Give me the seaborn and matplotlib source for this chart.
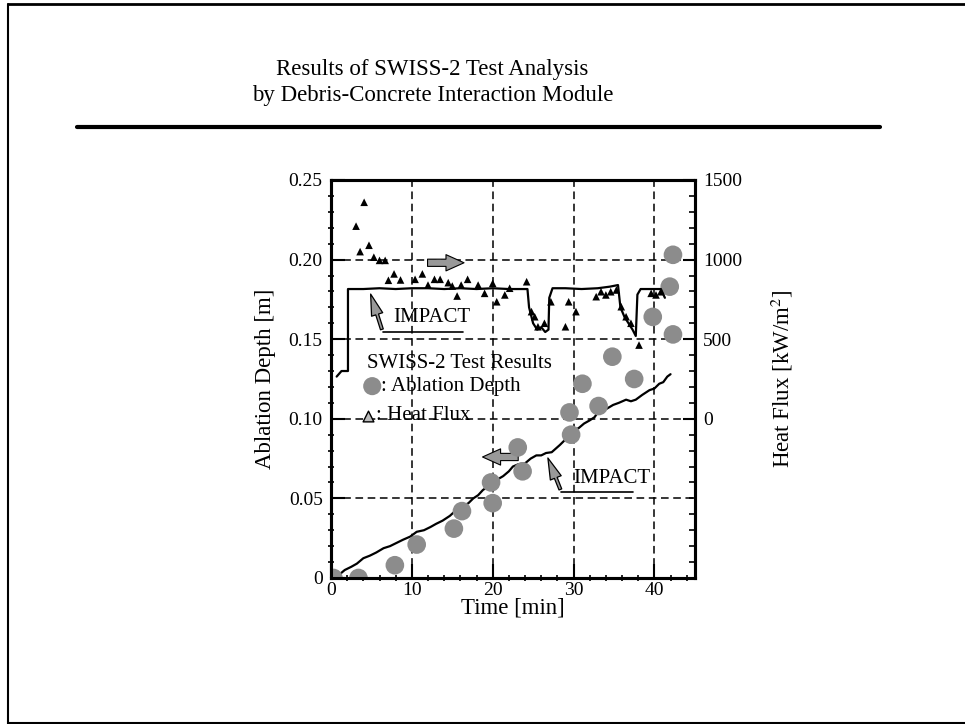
import matplotlib
matplotlib.use("Agg")
import matplotlib.pyplot as plt
from matplotlib.lines import Line2D
from matplotlib.ticker import MultipleLocator
import numpy as np
import pandas as pd
import seaborn as sns

# measured ablation depth (circles)
abl_time = [0.3, 3.4, 7.9, 10.6, 15.2, 16.2, 20.0, 19.8, 23.1, 23.7,
            29.7, 29.5, 33.1, 31.1, 34.8, 37.5, 39.8, 42.3, 41.9, 42.3]
abl_depth = [0.0, 0.0, 0.008, 0.021, 0.031, 0.042, 0.047, 0.060, 0.082, 0.067,
             0.090, 0.104, 0.108, 0.122, 0.139, 0.125, 0.164, 0.203, 0.183, 0.153]

# measured heat flux (triangles), kW/m2
hf_time = [3.1, 4.1, 4.7, 3.6, 5.3, 6.0, 6.7, 7.1, 7.8, 8.6, 10.4, 11.3, 12.0,
           12.8, 13.5, 14.5, 15.0, 15.6, 16.1, 16.9, 18.2, 19.0, 20.0, 20.5,
           21.5, 22.1, 24.2, 24.8, 25.2, 25.6, 26.4, 27.2, 29.0, 29.4, 30.3,
           32.8, 33.4, 34.0, 34.6, 35.3, 35.9, 36.5, 37.1, 38.1, 39.6, 40.2, 40.8]
hf_value = [1210, 1360, 1090, 1050, 1015, 995, 995, 870, 910, 872, 876, 910, 840,
            876, 876, 855, 834, 771, 840, 876, 840, 788, 851, 735,
            778, 820, 861, 673, 641, 578, 600, 735, 578, 735, 673,
            767, 798, 778, 798, 809, 704, 641, 600, 463, 788, 778, 798]

# calculated ablation depth (line)
calc_abl_time = [0.5, 1.0, 1.7, 2.5, 3.2, 4.0, 4.8, 5.6, 6.5, 7.3, 8.1, 8.9, 9.8,
                 10.6, 11.5, 12.3, 13.0, 13.8, 14.7, 15.5, 16.3, 17.0, 17.6, 18.2,
                 18.8, 19.6, 20.5, 21.3, 22.0, 22.5, 23.2, 24.0, 24.7, 25.4, 26.0,
                 26.6, 27.3, 28.3, 29.0, 29.9, 30.6, 31.3, 32.0, 32.6, 33.2, 34.0,
                 34.9, 35.6, 36.5, 37.1, 37.7, 38.5, 39.4, 40.0, 40.6, 41.1, 41.6, 42.0]
calc_abl_depth = [0.000, 0.002, 0.005, 0.007, 0.009, 0.0124, 0.014, 0.016, 0.0187, 0.020,
                  0.022, 0.024, 0.026, 0.029, 0.030, 0.032, 0.034, 0.036, 0.039, 0.0427,
                  0.045, 0.047, 0.050, 0.052, 0.0553, 0.058, 0.0616, 0.064, 0.067, 0.070,
                  0.0715, 0.072, 0.075, 0.077, 0.077, 0.0785, 0.079, 0.0835, 0.087, 0.093,
                  0.094, 0.097, 0.099, 0.101, 0.1055, 0.106, 0.1087, 0.110, 0.112, 0.111,
                  0.112, 0.115, 0.118, 0.119, 0.122, 0.123, 0.1265, 0.128]

# calculated heat flux (line), kW/m2
calc_hf_time = [0.7, 1.3, 2.1, 2.1, 4.0, 6.0, 8.0, 10.0, 12.0, 14.0, 16.0, 18.0, 20.0,
                22.0, 24.3, 24.5, 25.0, 25.5, 26.0, 26.5, 26.9, 27.0, 27.4, 29.0,
                31.0, 33.0, 34.5, 35.5, 35.8, 36.3, 36.8, 37.3, 37.7, 37.9, 38.3,
                40.0, 40.8, 41.3]
calc_hf_value = [265, 300, 300, 815, 815, 820, 815, 820, 820, 815, 820, 815, 820,
                 815, 815, 700, 600, 560, 575, 545, 560, 760, 820, 820,
                 815, 820, 830, 840, 700, 640, 600, 560, 520, 780, 815,
                 815, 815, 760]

sns.set_style("ticks")
plt.rcParams['font.family'] = ['Liberation Serif', 'DejaVu Serif']
plt.rcParams['mathtext.fontset'] = 'stix'
for key in ['text.color', 'axes.labelcolor', 'xtick.color', 'ytick.color', 'axes.edgecolor']:
    plt.rcParams[key] = 'black'

fig = plt.figure(figsize=(9.65, 7.24), dpi=100)
ax = fig.add_axes([0.343, 0.2017, 0.377, 0.5497])
ax2 = ax.twinx()

calc_abl = pd.DataFrame({'t': calc_abl_time, 'd': calc_abl_depth})
sns.lineplot(data=calc_abl, x='t', y='d', sort=False, estimator=None,
             color='black', lw=1.6, ax=ax, zorder=3)
abl = pd.DataFrame({'t': abl_time, 'd': abl_depth})
sns.scatterplot(data=abl, x='t', y='d', s=180, color='#8c8c8c',
                edgecolor='none', ax=ax, zorder=4)

calc_hf = pd.DataFrame({'t': calc_hf_time, 'q': calc_hf_value})
sns.lineplot(data=calc_hf, x='t', y='q', sort=False, estimator=None,
             color='black', lw=1.6, ax=ax2, zorder=3)
hf = pd.DataFrame({'t': hf_time, 'q': hf_value})
sns.scatterplot(data=hf, x='t', y='q', marker='^', s=30, color='black',
                edgecolor='none', ax=ax2, zorder=4)

ax.set_xlim(0, 45)
ax.set_ylim(0, 0.25)
ax2.set_ylim(-1000, 1500)
ax.set_xticks([0, 10, 20, 30, 40])
ax.set_yticks([0, 0.05, 0.10, 0.15, 0.20, 0.25])
ax.set_yticklabels(['0', '0.05', '0.10', '0.15', '0.20', '0.25'])
ax2.set_yticks([0, 500, 1000, 1500])
ax.xaxis.set_minor_locator(MultipleLocator(2))
ax.yaxis.set_minor_locator(MultipleLocator(0.01))
ax2.yaxis.set_minor_locator(MultipleLocator(100))

ax.grid(True, which='major', color='black', ls=(0, (5, 3)), lw=1.1)
ax.set_axisbelow(True)

ax.tick_params(which='major', direction='in', length=10, width=1.5, labelsize=14, pad=6)
ax.tick_params(axis='x', which='major', pad=3)
ax.tick_params(which='minor', direction='inout', length=5, width=1.2)
ax2.tick_params(which='major', direction='in', length=9, width=1.5, labelsize=14, pad=6)
ax2.tick_params(which='minor', direction='in', length=4, width=1.2)
for a in (ax, ax2):
    for sp in a.spines.values():
        sp.set_linewidth(2.2)

ax.set_xlabel('Time [min]', fontsize=16.5, labelpad=-1)
ax.set_ylabel('Ablation Depth [m]', fontsize=16.5, labelpad=9)
ax2.set_ylabel('Heat Flux [kW/m$^2$]', fontsize=16.5, labelpad=19)

arrow_big = 'simple,head_width=0.9,head_length=1.0,tail_width=0.4'
arrow_thin = 'simple,head_width=0.6,head_length=1.1,tail_width=0.15'

# direction arrows
ax.annotate('', xy=(16.8, 0.198), xytext=(11.6, 0.198),
            arrowprops=dict(arrowstyle=arrow_big, mutation_scale=13,
                            fc='#999999', ec='black', lw=0.8))
ax.annotate('', xy=(18.4, 0.076), xytext=(23.5, 0.076),
            arrowprops=dict(arrowstyle=arrow_big, mutation_scale=13,
                            fc='#999999', ec='black', lw=0.8))

# IMPACT callouts
ax.plot([6.4, 16.3], [0.1545, 0.1545], color='black', lw=1.2)
ax.annotate('', xy=(4.8, 0.180), xytext=(6.4, 0.1545),
            arrowprops=dict(arrowstyle=arrow_thin, mutation_scale=14,
                            fc='#999999', ec='black', lw=0.9))
ax.text(12.5, 0.1575, 'IMPACT', fontsize=15, ha='center', va='bottom')

ax.plot([28.5, 37.3], [0.054, 0.054], color='black', lw=1.2)
ax.annotate('', xy=(26.7, 0.077), xytext=(28.5, 0.054),
            arrowprops=dict(arrowstyle=arrow_thin, mutation_scale=14,
                            fc='#999999', ec='black', lw=0.9))
ax.text(34.7, 0.0565, 'IMPACT', fontsize=15, ha='center', va='bottom')

# legend as text
ax.text(4.4, 0.135, 'SWISS-2 Test Results', fontsize=15, va='center')
ax.scatter([5.1], [0.1205], s=170, color='#8c8c8c', edgecolor='none', zorder=5)
ax.text(6.2, 0.120, ': Ablation Depth', fontsize=15, va='center')
ax.scatter([4.6], [0.102], s=60, marker='^', color='#bbbbbb', edgecolor='black', zorder=5)
ax.text(5.6, 0.102, ': Heat Flux', fontsize=15, va='center')

# page title and frame
fig.text(0.448, 1 - 70 / 724, 'Results of SWISS-2 Test Analysis', fontsize=16.5,
         ha='center', va='center')
fig.text(0.448, 1 - 95 / 724, 'by Debris-Concrete Interaction Module', fontsize=16.5,
         ha='center', va='center')
fig.add_artist(Line2D([77 / 965, 880 / 965], [1 - 127 / 724] * 2, color='black', lw=3))
fig.add_artist(Line2D([8 / 965, 1.0], [1 - 4 / 724] * 2, color='black', lw=2))
fig.add_artist(Line2D([8 / 965] * 2, [0.0, 1 - 4 / 724], color='black', lw=1.5))
fig.add_artist(Line2D([8 / 965, 1.0], [1.5 / 724] * 2, color='black', lw=1.5))

fig.savefig('out.png', dpi=100)
